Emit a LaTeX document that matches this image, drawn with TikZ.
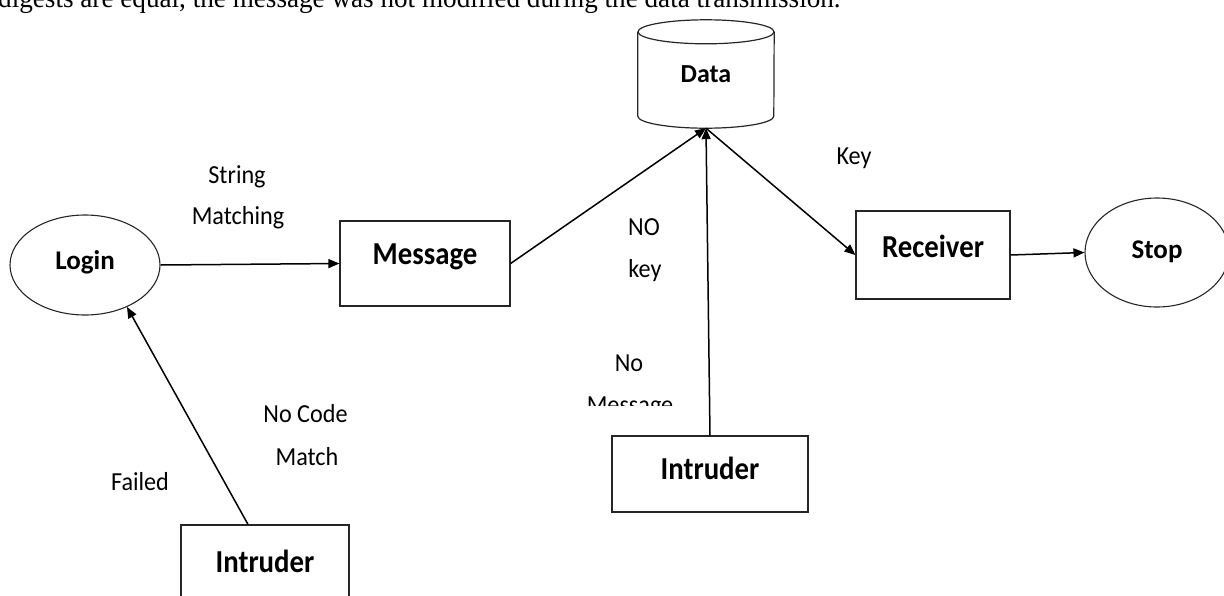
\documentclass[tikz,border=0pt]{standalone}
\usepackage{fontspec}
\setmainfont{Carlito}
\newfontfamily\serifface[FakeStretch=0.97]{Liberation Serif}
\newfontfamily\lblface[FakeStretch=0.93]{Carlito}
\newfontfamily\boxface[FakeStretch=0.9]{Carlito}
\usetikzlibrary{arrows.meta,shapes.geometric,calc}
\begin{document}
\begin{tikzpicture}[x=1pt,y=-1pt,
  every node/.style={inner sep=0pt},
  box/.style={draw=black!85,line width=1.2pt,rectangle,text height=20pt,font=\boxface\fontsize{32}{36}\selectfont\bfseries},
  oval/.style={draw=black!85,line width=1.1pt,ellipse,text height=17pt,font=\fontsize{27}{31}\selectfont\bfseries},
  lbl/.style={anchor=base,font=\lblface\fontsize{26}{30}\selectfont},
  conn/.style={draw=black,line width=1.5pt,-{Triangle[length=11pt,width=9pt]}}
]
\useasboundingbox (0,0) rectangle (1224,595);
\begin{scope}
\clip (0,0) rectangle (1224,595);
% top text (cut off at the top edge)
\node[anchor=base west,font=\serifface\fontsize{28}{32}\selectfont] (toptext) at (-2,7.5) {digests are equal, the message was not modified during the data transmission.};
% nodes
\node[oval,minimum width=150pt,minimum height=100pt,text depth=9pt] (login) at (85,265) {Login};
\node[box,minimum width=170pt,minimum height=85pt,text depth=19pt] (msg) at (425,263.5) {Message};
\node[minimum width=136pt,minimum height=108pt,text height=17pt,text depth=0pt,font=\fontsize{26}{30}\selectfont\bfseries] (data) at (706,74) {Data};
\draw[line width=1.2pt,draw=black!85]
  ($(data.north west)+(0,12)$) -- ($(data.south west)+(0,-12)$)
  arc[start angle=180,end angle=360,x radius=68pt,y radius=12pt]
  -- ($(data.north east)+(0,12)$);
\draw[line width=1.2pt,draw=black!85] ($(data.north)+(0,12)$) ellipse[x radius=68pt,y radius=12pt];
\node[box,minimum width=154pt,minimum height=88pt,text depth=16pt] (recv) at (933,255) {Receiver};
\node[oval,minimum width=144pt,minimum height=109pt,text depth=6pt] (stop) at (1157,252.5) {Stop};
\node[box,minimum width=196pt,minimum height=76pt,text depth=10pt] (intr2) at (710,474) {Intruder};
\node[box,minimum width=168pt,minimum height=90pt,text depth=16pt] (intr1) at (265,570) {Intruder};
% connectors
\draw[conn] (login.east) -- (msg.west);
\draw[conn] (msg.east) -- (data.south);
\draw[conn] (intr2.north) -- (data.south);
\draw[conn] (data.south) -- (recv.west);
\draw[conn] (recv.east) -- (stop.west);
\coordinate (i1top) at ($(intr1.north)+(-17,0)$);
\draw[conn] (i1top) -- (login.-45);
% labels
\node[lbl] (l1) at (237,183) {String};
\node[lbl] (l2) at (238,224) {Matching};
\node[lbl] (l3) at (854,164) {Key};
\node[lbl] (l4) at (644,235) {NO};
\node[lbl] (l5) at (645,277) {key};
\node[lbl] (l6) at (629,371) {No};
\begin{scope}
\clip (550,380) rectangle (700,405);
\node[lbl] (l7) at (630,413) {Message};
\end{scope}
\node[lbl] (l8) at (305.5,422) {No Code};
\node[lbl] (l9) at (307,465) {Match};
\node[lbl] (l10) at (140,490) {Failed};
\end{scope}
\end{tikzpicture}
\end{document}
